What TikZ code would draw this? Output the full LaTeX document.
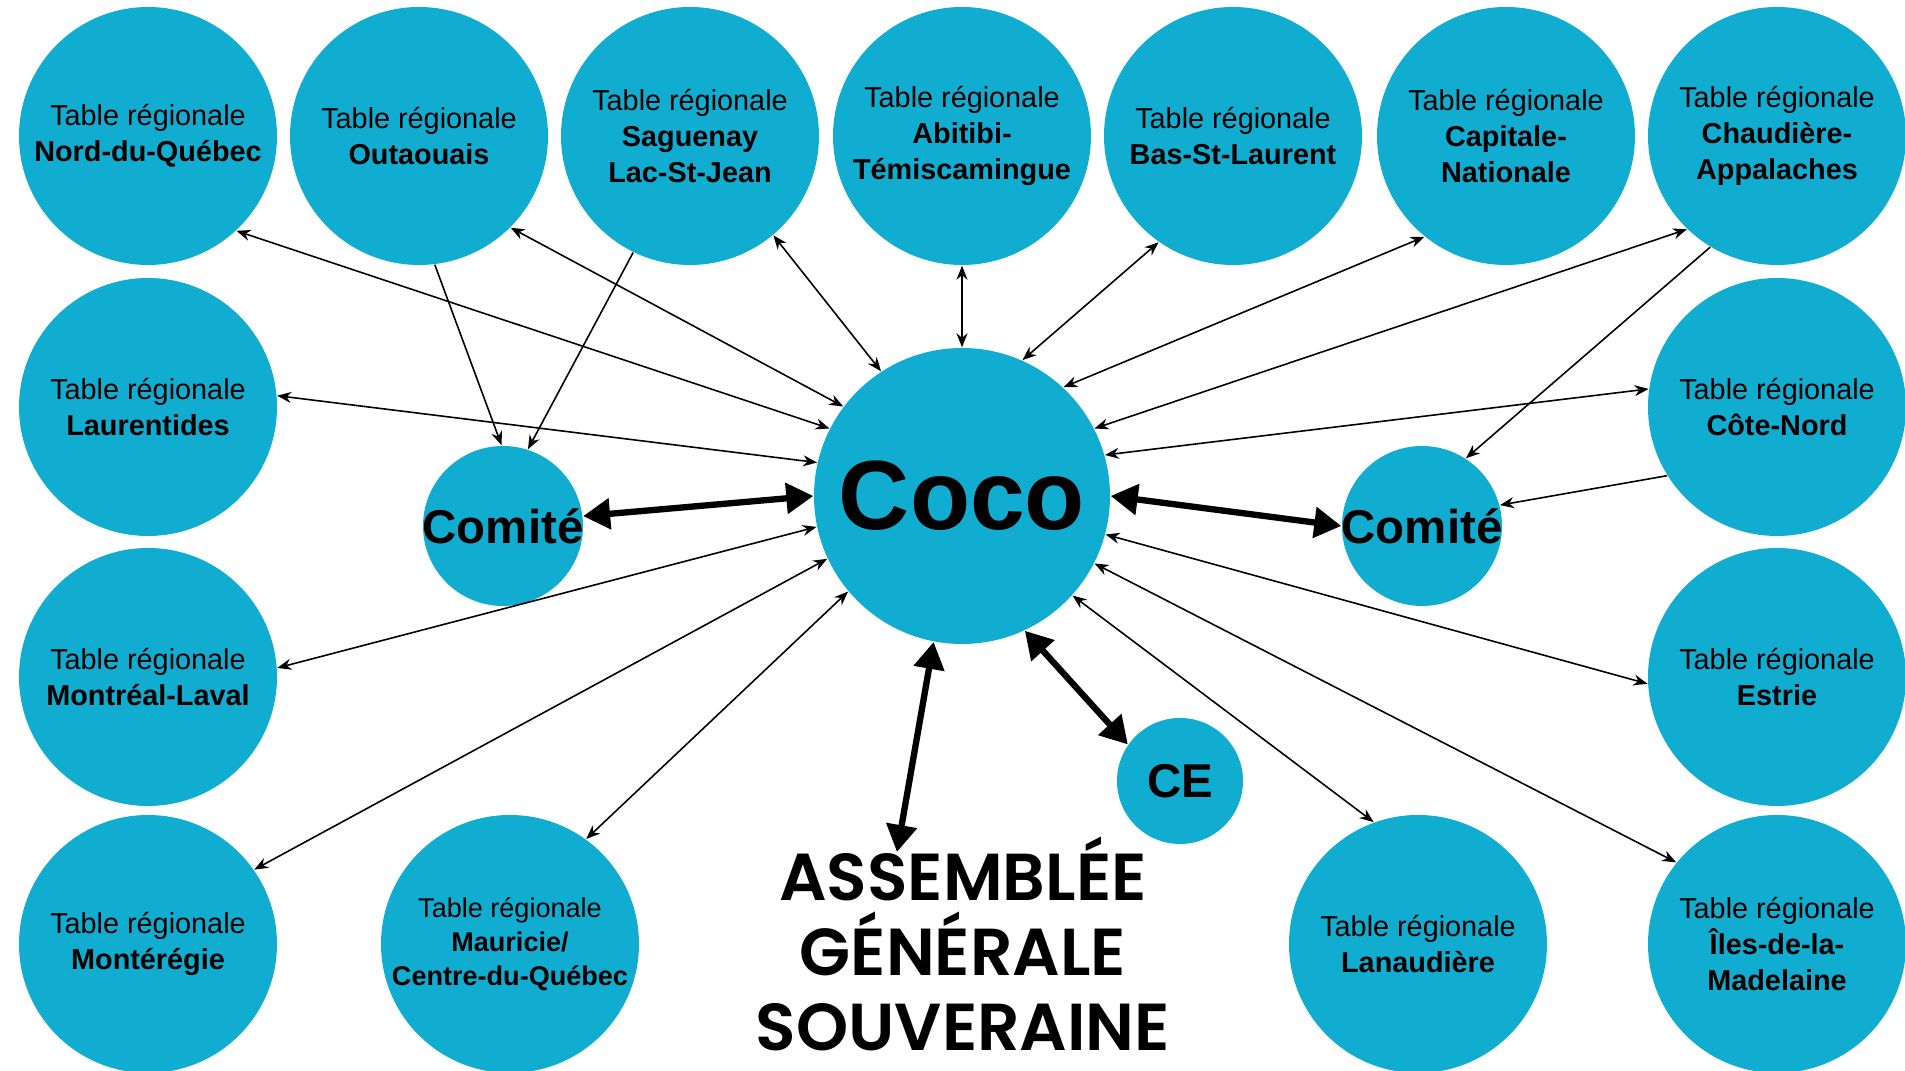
\documentclass[tikz,border=0pt]{standalone}
\usepackage{fontspec}
\setmainfont{Liberation Sans}
\IfFontExistsTF{Poppins SemiBold}
  {\newfontfamily\agfont{Poppins SemiBold}}
  {\newfontfamily\agfont{Poppins}[FakeBold=3]}
\usetikzlibrary{arrows.meta}
\definecolor{tblue}{RGB}{17,173,208}

\tikzset{
  cnode/.style = {circle, fill=tblue, inner sep=0pt, align=center, text centered},
  tr_n/.style = {cnode, minimum size=25.8mm, font=\fontsize{8.2}{10.3}\selectfont},% table regionale
  tr_s/.style = {cnode, minimum size=25.8mm, font=\fontsize{7.7}{9.6}\selectfont},% table regionale, texte plus petit
  coco_n/.style = {cnode, minimum size=29.6mm, font=\fontsize{28}{30}\selectfont\bfseries},% coco
  com_n/.style = {cnode, minimum size=16mm, font=\fontsize{13.5}{14}\selectfont\bfseries},% comite
  ce_n/.style = {cnode, minimum size=12.6mm, font=\fontsize{13.5}{14}\selectfont\bfseries},% ce
  lien/.style = {{Stealth[length=1.4mm,width=1.1mm]}-{Stealth[length=1.4mm,width=1.1mm]}, line width=0.45pt},% lien double
  lien_s/.style = {-{Stealth[length=1.4mm,width=1.1mm]}, line width=0.45pt},% lien simple
  lien_g/.style = {{Triangle[length=2.7mm,width=3mm]}-{Triangle[length=2.7mm,width=3mm]}, line width=1.8pt}% lien gras
}

\begin{document}
\begin{tikzpicture}[x=0.1mm, y=-0.1mm]
  \useasboundingbox (0,0) rectangle (1905,1071);
  \clip (0,0) rectangle (1905,1071);
  \fill[white] (0,0) rectangle (1905,1071);

  % rangee du haut
  \node [tr_n] (nord) at (148,136) {Table régionale\\\textbf{Nord-du-Québec}};
  \node [tr_n] (outa) at (419,136) {Table régionale\\\textbf{Outaouais}};
  \node [tr_n] (sagu) at (690,136) {Table régionale\\\textbf{Saguenay}\\\textbf{Lac-St-Jean}};
  \node [tr_n] (abit) at (962,136) {Table régionale\\\textbf{Abitibi-}\\\textbf{Témiscamingue}};
  \node [tr_n] (bsl) at (1233,136) {Table régionale\\\textbf{Bas-St-Laurent}};
  \node [tr_n] (capn) at (1506,136) {Table régionale\\\textbf{Capitale-}\\\textbf{Nationale}};
  \node [tr_n] (chau) at (1777,136) {Table régionale\\\textbf{Chaudière-}\\\textbf{Appalaches}};
  % colonne de gauche
  \node [tr_n] (laur) at (148,407) {Table régionale\\\textbf{Laurentides}};
  \node [tr_n] (mtl) at (148,677) {Table régionale\\\textbf{Montréal-Laval}};
  \node [tr_n] (mont) at (148,944) {Table régionale\\\textbf{Montérégie}};
  % colonne de droite
  \node [tr_n] (cote) at (1777,407) {Table régionale\\\textbf{Côte-Nord}};
  \node [tr_n] (estr) at (1777,677) {Table régionale\\\textbf{Estrie}};
  \node [tr_n] (iles) at (1777,944) {Table régionale\\\textbf{Îles-de-la-}\\\textbf{Madelaine}};
  % rangee du bas
  \node [tr_s] (maur) at (510,944) {Table régionale\\\textbf{Mauricie/}\\\textbf{Centre-du-Québec}};
  \node [tr_n] (lana) at (1418,944) {Table régionale\\\textbf{Lanaudière}};

  % centre
  \node [coco_n] (coco) at (962,496) {Coco};
  \node [com_n] (comg) at (503,526) {\makebox[0pt]{Comité}};
  \node [com_n] (comd) at (1422,526) {\makebox[0pt]{Comité}};
  \node [ce_n] (ce) at (1180,781) {CE};
  \node [align=center, font=\agfont\fontsize{18.9}{21.3}\selectfont] (agsn) at (963,944)
    {ASSEMBLÉE\\GÉNÉRALE\\SOUVERAINE};
  \coordinate (agsn_in) at (897,852);

  % liens tables - coco
  \draw [lien] (nord.-47) -- (coco.153);
  \draw [lien] (outa.-45) -- (coco.143);
  \draw [lien] (sagu.-50) -- (coco.123);
  \draw [lien] (abit.-90) -- (coco.90);
  \draw [lien] (bsl.-125) -- (coco.66);
  \draw [lien] (capn.-129) -- (coco.47);
  \draw [lien] (chau.-134) -- (coco.27);
  \draw [lien] (laur.5) -- (coco.167);
  \draw [lien] (mtl.4) -- (coco.-168);
  \draw [lien] (mont.35) -- (coco.-155);
  \draw [lien] (maur.54) -- (coco.-140);
  \draw [lien] (cote.172) -- (coco.16);
  \draw [lien] (estr.-177) -- (coco.-15);
  \draw [lien] (iles.141) -- (coco.-27);
  \draw [lien] (lana.110) -- (coco.-42);
  % liens vers les comites
  \draw [lien_s] (outa.-83) -- (comg.91);
  \draw [lien_s] (sagu.-116) -- (comg.72);
  \draw [lien_s] (chau.-121) -- (comd.57);
  \draw [lien_s] (cote.-148) -- (comd.15);
  % liens gras
  \draw [lien_g] (comg.7) -- (coco.180);
  \draw [lien_g] (coco.0) -- (comd.180);
  \draw [lien_g] (coco.-65) -- (ce.145);
  \draw [lien_g] (coco.-101) -- (agsn_in);
\end{tikzpicture}
\end{document}
